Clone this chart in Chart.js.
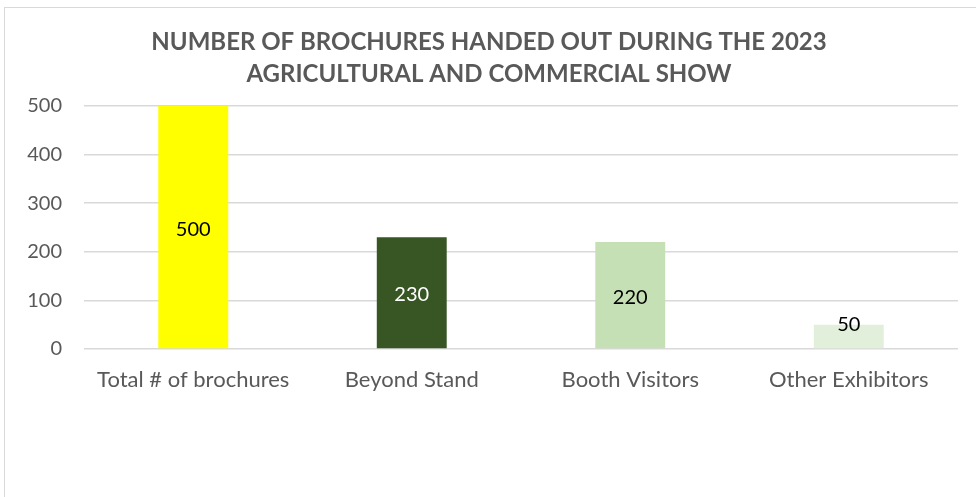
<!DOCTYPE html>
<html>
<head>
<meta charset="utf-8">
<script src="https://cdn.jsdelivr.net/npm/chart.js@4"></script>
<style>
  html, body { margin: 0; padding: 0; background: #fff; }
  #wrap { position: relative; width: 976px; height: 497px; overflow: hidden; }
  #frame { position: absolute; left: 4px; top: 7px; width: 980px; height: 500px;
           border: 1px solid #d9d9d9; pointer-events: none; box-sizing: border-box; }
  canvas { position: absolute; left: 0; top: 0; }
</style>
</head>
<body>
<div id="wrap">
  <canvas id="chart" width="976" height="497"></canvas>
  <div id="frame"></div>
</div>
<script>
var categories = ["Total # of brochures", "Beyond Stand", "Booth Visitors", "Other Exhibitors"];
var brochures = [500, 230, 220, 50];
var barColors = ["#ffff00", "#375623", "#c5e0b4", "#e2efda"];
var labelColors = ["#000000", "#ffffff", "#000000", "#000000"];
var yTicks = [0, 100, 200, 300, 400, 500];

var FONT = "Lato, 'Open Sans', sans-serif";

// value labels in the middle of each bar (short bars get theirs at the top)
var barLabels = {
  id: "barLabels",
  afterDatasetsDraw: function(chart) {
    var ctx = chart.ctx;
    var meta = chart.getDatasetMeta(0);
    ctx.save();
    ctx.font = "20px " + FONT;
    ctx.textAlign = "center";
    ctx.textBaseline = "middle";
    meta.data.forEach(function(bar, i) {
      var h = bar.base - bar.y;
      var y = h < 40 ? bar.y : (bar.y + bar.base) / 2 + 2;
      ctx.fillStyle = labelColors[i];
      ctx.fillText(brochures[i], bar.x, y);
    });
    ctx.restore();
  }
};

new Chart(document.getElementById("chart"), {
  type: "bar",
  data: {
    labels: categories,
    datasets: [{
      data: brochures,
      backgroundColor: barColors,
      categoryPercentage: 1,
      barPercentage: 0.32
    }]
  },
  options: {
    responsive: false,
    animation: false,
    layout: { padding: { left: 20, right: 18, top: 10, bottom: 0 } },
    plugins: {
      legend: { display: false },
      tooltip: { enabled: false },
      title: {
        display: true,
        text: ["NUMBER OF BROCHURES HANDED OUT DURING THE 2023", "AGRICULTURAL AND COMMERCIAL SHOW"],
        color: "#595959",
        font: { family: FONT, size: 24, weight: "bold", lineHeight: 1.333 },
        padding: { top: 16, bottom: 16 }
      }
    },
    scales: {
      x: {
        grid: { display: false, drawTicks: false },
        border: { display: false },
        ticks: { color: "#595959", font: { family: FONT, size: 22 }, padding: 18 },
        afterFit: function(s) { s.height = 148; }
      },
      y: {
        min: 0,
        max: 500,
        afterBuildTicks: function(s) { s.ticks = yTicks.map(function(v) { return { value: v }; }); },
        grid: { color: "#d9d9d9", lineWidth: 1.5, drawTicks: false },
        border: { display: false },
        ticks: { color: "#595959", font: { family: FONT, size: 20 }, padding: 22 },
        afterFit: function(s) { s.width = 64; }
      }
    }
  },
  plugins: [barLabels]
});
</script>
</body>
</html>
